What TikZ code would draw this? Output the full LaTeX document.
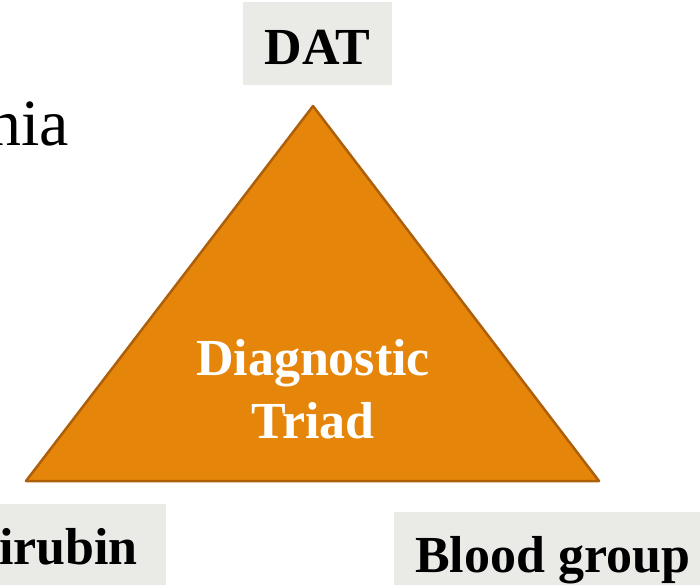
\documentclass[tikz,border=0pt]{standalone}
\usepackage{fontspec}
\setmainfont{Liberation Serif}
\definecolor{triFill}{HTML}{E5850A}
\definecolor{triLine}{HTML}{AE5F0A}
\definecolor{boxGray}{HTML}{EAEBE7}
\begin{document}
\begin{tikzpicture}[x=1pt,y=-1pt,
  graybox/.style={fill=boxGray,draw=none},
  lbl/.style={font=\fontsize{52}{63}\selectfont\bfseries,inner sep=0pt,anchor=base}]
\useasboundingbox (0,0) rectangle (700,584);
\clip (0,0) rectangle (700,584);
% title fragment
\node[font=\fontsize{66}{72}\selectfont,inner sep=0pt,anchor=base east] (title) at (69,145) {nia};
% boxes
\fill[graybox] (243,2) rectangle (392,85);
\fill[graybox] (0,504) rectangle (166,590);
\fill[graybox] (394,512) rectangle (705,590);
\node[lbl] (dat) at (317.5,64) {DAT};
\node[lbl,anchor=base east] (bili) at (138,564) {Bilirubin};
\node[lbl,anchor=base west] (blood) at (415,572) {Blood group};
% triangle
\coordinate (apex) at (313,106);
\coordinate (bl) at (26,481);
\coordinate (br) at (599,481);
\filldraw[fill=triFill,draw=triLine,line width=2.5pt,line join=round] (apex) -- (br) -- (bl) -- cycle;
\node[lbl,text=white,align=center] (diag) at (313,438) {Diagnostic\\Triad};
\end{tikzpicture}
\end{document}
